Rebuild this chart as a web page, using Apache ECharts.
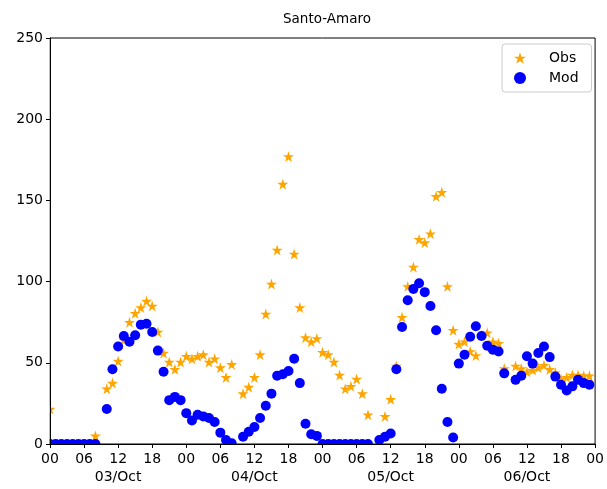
<!DOCTYPE html>
<html>
<head>
<meta charset="utf-8">
<script src="https://cdn.jsdelivr.net/npm/echarts@6/dist/echarts.min.js"></script>
<style>
  html, body { margin: 0; padding: 0; background: #fff; }
  #chart { width: 607px; height: 489px; }
</style>
</head>
<body>
<div id="chart"></div>
<script>
// Tick labels
const hourLabels = ['00', '06', '12', '18'];
const dayLabels = ['03/Oct', '04/Oct', '05/Oct', '06/Oct'];
const yTicks = [0, 50, 100, 150, 200, 250];

// Hourly values, one array per day (hour 0..23), null = no data
const obsDay1 = [21.5, null, null, null, null, null, null, null, 5, null, 34, 37.5, 51, 64, 75, 80.5, 84, 88, 85, 69, 56, 50.5, 46, 50.5];
const obsDay2 = [54, 52.5, 54, 55, 50.5, 52.5, 47, 41, 49, null, 31, 35, 41, 55, 80, 98.5, 119.5, 160, 177, 117, 84, 65.5, 63, 65];
const obsDay3 = [56.5, 55, 50.5, 42.5, 34, 35.5, 40, 31, 18, null, null, 17, 27.5, 48, 78, 97, 109, 126, 124, 129.5, 152.5, 155, 97, 70];
const obsDay4 = [61.5, 63, 57, 54.5, 67, 68.5, 63, 62, 46.5, null, 48, 46.5, 44.5, 45.5, 47, 48.5, 46, 44, 40, 41, 42.5, 42.5, 42, 42];

const modDay1 = [0, 0, 0, 0, 0, 0, 0, 0, 0, null, 21.5, 46, 60, 66.5, 63, 67, 73.5, 74, 69, 57.5, 44.5, 27, 29, 27];
const modDay2 = [19, 14.5, 18, 17, 16, 13.5, 7, 2.5, 0.5, null, 4.5, 7.5, 10.5, 16, 23.5, 31, 42, 43, 45, 52.5, 37.5, 12.5, 6, 5];
const modDay3 = [0, 0, 0, 0, 0, 0, 0, 0, 0, null, 2.5, 4.5, 6.5, 46, 72, 88.5, 95.5, 99, 93.5, 85, 70, 34, 13.5, 4];
const modDay4 = [49.5, 55, 66, 72.5, 66.5, 60.5, 58, 57, 43.5, null, 39.5, 42, 54, 49.5, 56, 60, 53.5, 41.5, 36.5, 33, 35.5, 39.5, 37.5, 36.5];

const obs = [].concat(obsDay1, obsDay2, obsDay3, obsDay4);
const mod = [].concat(modDay1, modDay2, modDay3, modDay4);

function toPoints(arr) {
  const out = [];
  arr.forEach((v, i) => { if (v !== null) out.push([i, v]); });
  return out;
}

const STAR = 'path://M50,0 L61.2,34.5 L97.6,34.5 L68.2,55.9 L79.4,90.5 L50,69.1 L20.6,90.5 L31.8,55.9 L2.4,34.5 L38.8,34.5 Z';
const FONT = 'DejaVu Sans';

const W = 607, H = 489;
const G = { left: 50, right: 10, top: 38, bottom: 45 };

const chart = echarts.init(document.getElementById('chart'), null, { renderer: 'canvas' });
chart.setOption({
  animation: false,
  backgroundColor: '#ffffff',
  textStyle: { fontFamily: FONT },
  title: {
    text: 'Santo-Amaro',
    left: 322, top: 7, textAlign: 'center',
    textStyle: { fontFamily: FONT, fontSize: 13.5, fontWeight: 'normal', color: '#000' }
  },
  legend: {
    orient: 'vertical',
    left: 502, top: 44,
    padding: [7, 13, 7, 12],
    itemGap: 6,
    itemWidth: 12, itemHeight: 12,
    align: 'left',
    borderColor: '#cccccc', borderWidth: 1, borderRadius: 3,
    backgroundColor: 'rgba(255,255,255,0.8)',
    textStyle: { fontFamily: FONT, fontSize: 14, color: '#000', padding: [0, 0, 0, 18] },
    data: [
      { name: 'Obs', icon: STAR, itemStyle: { color: '#FFA500', opacity: 1 } },
      { name: 'Mod', icon: 'circle', itemStyle: { color: '#0000FF', opacity: 1 } }
    ]
  },
  // white masks outside the plot frame, so markers are cut at the axes like the original
  graphic: [
    { type: 'rect', z: 5, silent: true,
      shape: { x: G.left - 8, y: H - G.bottom + 0.5, width: W - G.left - G.right + 16, height: 10 },
      style: { fill: '#fff' } },
    { type: 'rect', z: 5, silent: true,
      shape: { x: G.left - 8, y: G.top - 8, width: 7.5, height: H - G.top - G.bottom + 16 },
      style: { fill: '#fff' } }
  ],
  grid: {
    left: G.left, right: G.right, top: G.top, bottom: G.bottom,
    show: true, borderColor: '#000', borderWidth: 1, backgroundColor: 'transparent'
  },
  xAxis: {
    type: 'value', min: 0, max: 96, interval: 6, z: 10,
    axisLine: { show: true, lineStyle: { color: '#000', width: 1 } },
    axisTick: { show: true, length: 4, lineStyle: { color: '#000' } },
    splitLine: { show: false },
    axisLabel: {
      fontFamily: FONT, fontSize: 14, color: '#000', margin: 6, lineHeight: 18,
      formatter: function (v) {
        const h = v % 24;
        const lbl = hourLabels[h / 6];
        if (h === 12) return lbl + '\n' + dayLabels[Math.floor(v / 24)];
        return lbl;
      }
    }
  },
  yAxis: {
    type: 'value', min: yTicks[0], max: yTicks[yTicks.length - 1], interval: 50, z: 10,
    axisLine: { show: true, lineStyle: { color: '#000', width: 1 } },
    axisTick: { show: true, length: 4, lineStyle: { color: '#000' } },
    splitLine: { show: false },
    axisLabel: { fontFamily: FONT, fontSize: 14, color: '#000', margin: 7 }
  },
  series: [
    {
      name: 'Obs', type: 'scatter', data: toPoints(obs),
      symbol: STAR, symbolSize: 11,
      itemStyle: { color: '#FFA500', opacity: 1 }, z: 2
    },
    {
      name: 'Mod', type: 'scatter', data: toPoints(mod),
      symbol: 'circle', symbolSize: 10,
      itemStyle: { color: '#0000FF', opacity: 1 }, z: 3
    }
  ]
});
</script>
</body>
</html>
